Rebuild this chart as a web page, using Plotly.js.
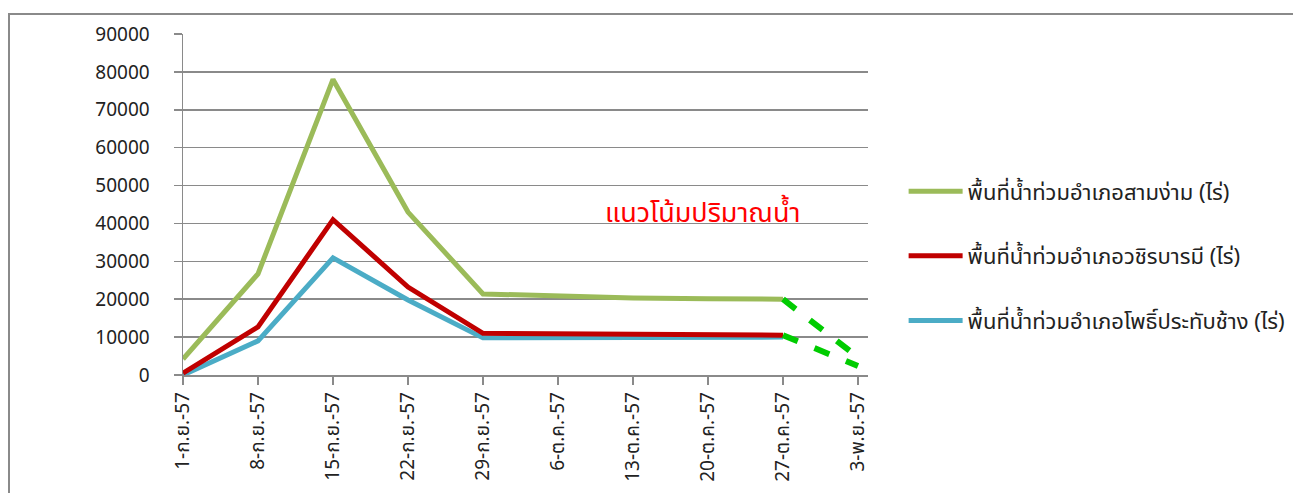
<!DOCTYPE html>
<html>
<head>
<meta charset="utf-8">
<script src="https://cdn.plot.ly/plotly-3.0.1.min.js"></script>
<style>
  html, body { margin: 0; padding: 0; background: #fff; }
  #wrap { position: relative; width: 1293px; height: 493px; overflow: hidden; }
  #chart { position: absolute; left: 0; top: 0; width: 1293px; height: 493px; }
  #frame { position: absolute; left: 8px; top: 13px; width: 1400px; height: 600px;
           border-left: 2px solid #8a8a8a; border-top: 2px solid #8a8a8a; pointer-events: none; }
</style>
</head>
<body>
<div id="wrap">
  <div id="chart"></div>
  <div id="frame"></div>
</div>
<script>
// Categories (weekly dates, Thai Buddhist year)
const categories = ["1-ก.ย.-57", "8-ก.ย.-57", "15-ก.ย.-57", "22-ก.ย.-57", "29-ก.ย.-57",
                    "6-ต.ค.-57", "13-ต.ค.-57", "20-ต.ค.-57", "27-ต.ค.-57", "3-พ.ย.-57"];

// Series values (ไร่), 1-ก.ย. to 27-ต.ค.
const samNgam   = [4200, 26700, 78000, 43000, 21400, 20800, 20300, 20100, 20000];
const wachira   = [500, 12700, 41000, 23200, 11000, 10800, 10600, 10500, 10500];
const phoThale  = [0, 9000, 30900, 19800, 9800, 9800, 9700, 9800, 10000];

// Trend (dashed) segments: 27-ต.ค. -> 3-พ.ย.
const trendUpper = [20000, 4700];
const trendLower = [10500, 2400];

const names = ["พื้นที่น้ำท่วมอำเภอสามง่าม (ไร่)",
               "พื้นที่น้ำท่วมอำเภอวชิรบารมี (ไร่)",
               "พื้นที่น้ำท่วมอำเภอโพธิ์ประทับช้าง (ไร่)"];
const yTicks = [0, 10000, 20000, 30000, 40000, 50000, 60000, 70000, 80000, 90000];
const annText = "แนวโน้มปริมาณน้ำ";

const idx = categories.map((_, i) => i);
const FONT = "Noto Sans, Noto Sans Thai, DejaVu Sans, sans-serif";

const green = { x: idx.slice(0, samNgam.length), y: samNgam, name: names[0], mode: "lines",
    line: { color: "#9BBB59", width: 5 }, legendgroup: "a", legendrank: 1 };
const red = { x: idx.slice(0, wachira.length), y: wachira, name: names[1], mode: "lines",
    line: { color: "#C00000", width: 5 }, legendgroup: "b", legendrank: 2 };
const blue = { x: idx.slice(0, phoThale.length), y: phoThale, name: names[2], mode: "lines",
    line: { color: "#4BACC6", width: 5 }, legendgroup: "c", legendrank: 3 };
const tU = { x: [8, 9], y: trendUpper, mode: "lines", showlegend: false, hoverinfo: "skip",
    line: { color: "#00CC00", width: 6, dash: "16px,18px" } };
const tL = { x: [8, 9], y: trendLower, mode: "lines", showlegend: false, hoverinfo: "skip",
    line: { color: "#00CC00", width: 6, dash: "16px,18px" } };

const layout = {
  width: 1293, height: 493,
  margin: { l: 183, r: 425, t: 34, b: 118, autoexpand: false },
  paper_bgcolor: "#fff", plot_bgcolor: "#fff",
  font: { family: FONT, size: 19, color: "#222" },
  showlegend: true,
  xaxis: {
    range: [0, 9 + 10 / 75],
    tickmode: "array", tickvals: idx, ticktext: categories,
    tickangle: -90, ticks: "outside", ticklen: 8, tickcolor: "#8a8a8a", tickwidth: 1.5,
    showgrid: false, zeroline: false,
    showline: true, linecolor: "#8a8a8a", linewidth: 1.5,
    tickfont: { family: FONT, size: 19, color: "#222" }
  },
  yaxis: {
    range: [0, 90000],
    tickmode: "array", tickvals: yTicks, ticktext: yTicks.map(String),
    ticks: "outside", ticklen: 8, tickcolor: "#8a8a8a", tickwidth: 1.5,
    showgrid: true, gridcolor: "#8a8a8a", gridwidth: 1.5,
    zeroline: false, showline: true, linecolor: "#8a8a8a", linewidth: 1.5,
    ticklabelstandoff: 20,
    tickfont: { family: FONT, size: 19, color: "#222" }
  },
  legend: {
    x: 1.052, xanchor: "left", y: 0.6, yanchor: "top",
    traceorder: "grouped", tracegroupgap: 33, itemwidth: 54,
    font: { family: FONT, size: 22, color: "#222" },
    bgcolor: "rgba(0,0,0,0)"
  },
  annotations: [{
    text: annText, xref: "x", yref: "paper", x: 6.93, y: 0.48,
    xanchor: "center", yanchor: "middle", showarrow: false,
    font: { family: FONT, size: 27, color: "#FF0000" }
  }]
};

Plotly.newPlot("chart", [green, blue, red, tU, tL], layout, { displayModeBar: false, staticPlot: true });
</script>
</body>
</html>
